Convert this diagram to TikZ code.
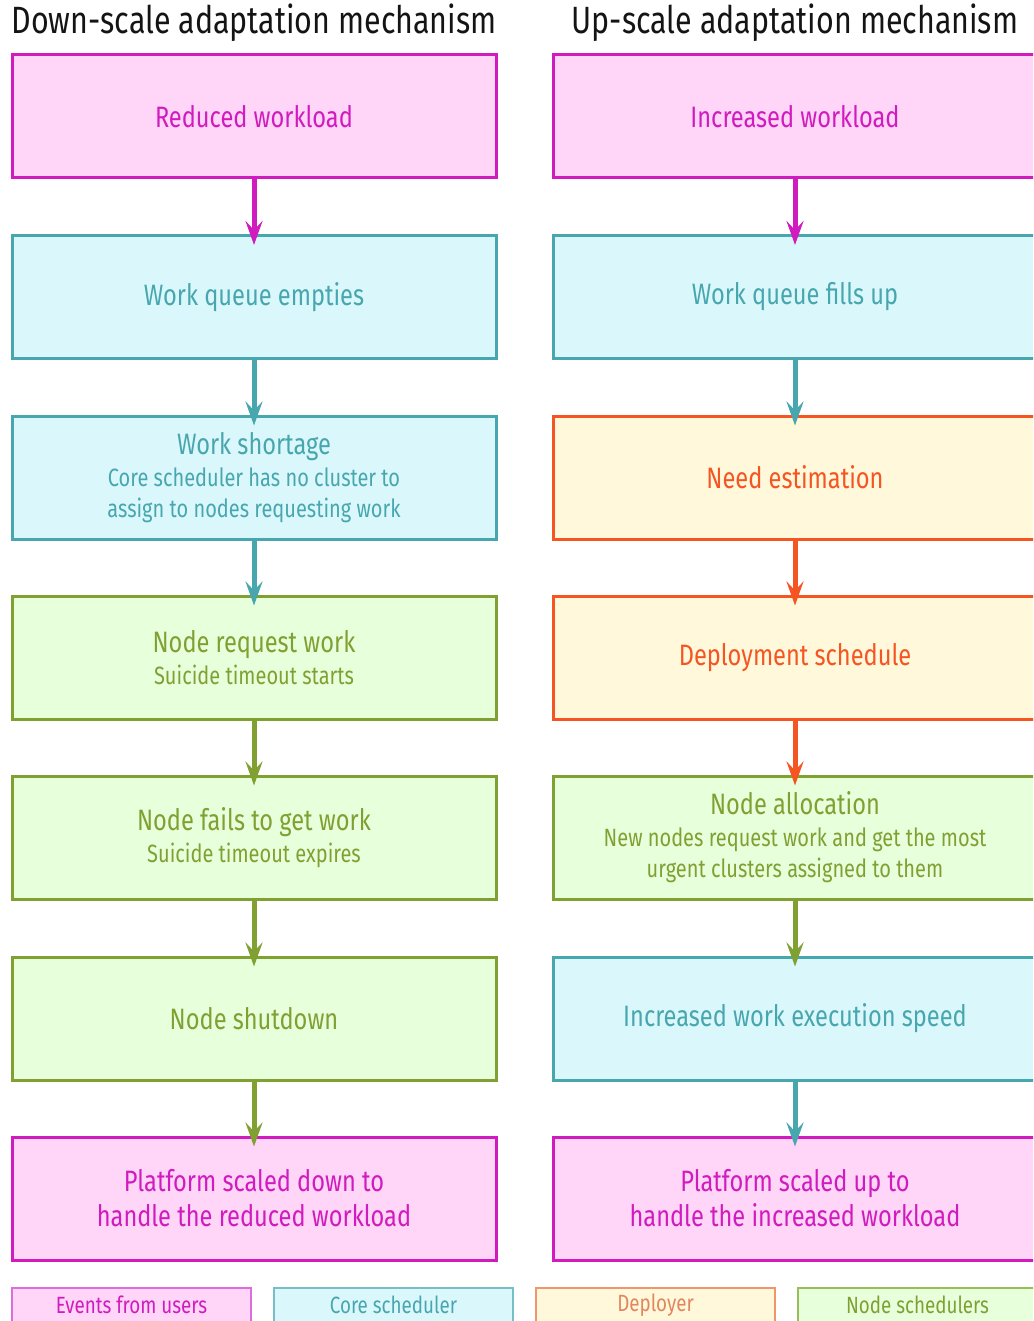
\documentclass[tikz,border=0pt]{standalone}
\usepackage{fontspec}
\setmainfont{Fira Sans}[FakeStretch=0.8]
\usetikzlibrary{arrows.meta}
\definecolor{pinkF}{RGB}{255,213,248}
\definecolor{pinkD}{RGB}{208,28,190}
\definecolor{cyanF}{RGB}{218,248,252}
\definecolor{cyanD}{RGB}{72,166,174}
\definecolor{yelF}{RGB}{255,248,218}
\definecolor{yelD}{RGB}{245,85,35}
\definecolor{grnF}{RGB}{232,255,220}
\definecolor{grnD}{RGB}{128,160,50}
\definecolor{legPinkB}{RGB}{220,110,220}
\definecolor{legCyanB}{RGB}{120,190,200}
\definecolor{legYelB}{RGB}{240,150,110}
\definecolor{legYelT}{RGB}{225,135,95}
\definecolor{legGrnB}{RGB}{150,190,90}
\newcommand\subf{\fontsize{25}{31}\selectfont}
\begin{document}
\begin{tikzpicture}[x=1pt,y=-1pt,
  box/.style={draw, line width=3pt, minimum width=484pt, minimum height=123pt,
    inner sep=0pt, align=center, font=\fontsize{29.5}{35}\selectfont},
  pinkbox/.style={box, fill=pinkF, draw=pinkD, text=pinkD},
  cyanbox/.style={box, fill=cyanF, draw=cyanD, text=cyanD},
  yelbox/.style={box, fill=yelF, draw=yelD, text=yelD},
  grnbox/.style={box, fill=grnF, draw=grnD, text=grnD},
  flow/.style={line width=5pt, -{Stealth[length=24pt,width=17pt,inset=9pt]}},
  legbox/.style={draw, line width=1.2pt, minimum width=239pt, minimum height=44pt, inner sep=0pt},
  legtext/.style={font=\fontsize{23.5}{26}\selectfont, inner sep=0pt},
  title/.style={font=\fontsize{38}{42}\selectfont, text={rgb,255:red,20;green,20;blue,20}, inner sep=0pt}
]
\useasboundingbox (0,0) rectangle (1033,1321);
\begin{scope}
\clip (0,0) rectangle (1033,1321);

\node[title] (tl) at (254,23) {Down-scale adaptation mechanism};
\node[title] (tr) at (795,23) {Up-scale adaptation mechanism};

% left column
\node[pinkbox] (l1) at (254,116.5) {Reduced workload};
\node[cyanbox] (l2) at (254,297) {Work queue empties};
\node[cyanbox] (l3) at (254,477.5) {Work shortage\\[-3pt]\subf Core scheduler has no cluster to\\[-4pt]\subf assign to nodes requesting work};
\node[grnbox] (l4) at (254,657.5) {Node request work\\[-3pt]\subf Suicide timeout starts};
\node[grnbox] (l5) at (254,837.5) {Node fails to get work\\[-3pt]\subf Suicide timeout expires};
\node[grnbox] (l6) at (254,1018.5) {Node shutdown};
\node[pinkbox] (l7) at (254,1198.5) {Platform scaled down to\\handle the reduced workload};

% right column
\node[pinkbox] (r1) at (795,116.5) {Increased workload};
\node[cyanbox] (r2) at (795,297) {Work queue fills up};
\node[yelbox] (r3) at (795,477.5) {Need estimation};
\node[yelbox] (r4) at (795,657.5) {Deployment schedule};
\node[grnbox] (r5) at (795,837.5) {Node allocation\\[-3pt]\subf New nodes request work and get the most\\[-4pt]\subf urgent clusters assigned to them};
\node[cyanbox] (r6) at (795,1018.5) {Increased work execution speed};
\node[pinkbox] (r7) at (795,1198.5) {Platform scaled up to\\handle the increased workload};

% arrows
\draw[flow, pinkD] (l1.south) -- ([yshift=-11pt]l2.north);
\draw[flow, cyanD] (l2.south) -- ([yshift=-11pt]l3.north);
\draw[flow, cyanD] (l3.south) -- ([yshift=-11pt]l4.north);
\draw[flow, grnD] (l4.south) -- ([yshift=-11pt]l5.north);
\draw[flow, grnD] (l5.south) -- ([yshift=-11pt]l6.north);
\draw[flow, grnD] (l6.south) -- ([yshift=-11pt]l7.north);

\draw[flow, pinkD] (r1.south) -- ([yshift=-11pt]r2.north);
\draw[flow, cyanD] (r2.south) -- ([yshift=-11pt]r3.north);
\draw[flow, yelD] (r3.south) -- ([yshift=-11pt]r4.north);
\draw[flow, yelD] (r4.south) -- ([yshift=-11pt]r5.north);
\draw[flow, grnD] (r5.south) -- ([yshift=-11pt]r6.north);
\draw[flow, cyanD] (r6.south) -- ([yshift=-11pt]r7.north);

% legend
\node[legbox, fill=pinkF, draw=legPinkB] (g1) at (131.5,1310) {};
\node[legbox, fill=cyanF, draw=legCyanB] (g2) at (393.5,1310) {};
\node[legbox, fill=yelF, draw=legYelB] (g3) at (655.5,1310) {};
\node[legbox, fill=grnF, draw=legGrnB] (g4) at (917.5,1310) {};
\node[legtext, text=pinkD] (t1) at (131.5,1305) {Events from users};
\node[legtext, text=cyanD] (t2) at (393.5,1305) {Core scheduler};
\node[legtext, text=legYelT] (t3) at (655.5,1305) {Deployer};
\node[legtext, text=grnD] (t4) at (917.5,1305) {Node schedulers};
\end{scope}
\end{tikzpicture}
\end{document}
